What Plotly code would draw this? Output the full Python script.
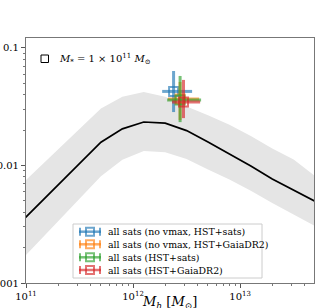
import plotly.graph_objects as go

# ---- data ----
mh_grid = [10**v for v in [10.9, 11.1, 11.3, 11.5, 11.7, 11.9, 12.1, 12.3, 12.5, 12.7, 12.9, 13.1, 13.3, 13.5, 13.7, 13.9]]
ratio_med = [10**v for v in [-2.529, -2.347, -2.165, -1.984, -1.802, -1.688, -1.630, -1.640, -1.703, -1.800, -1.900, -2.005, -2.115, -2.210, -2.300, -2.400]]
ratio_hi = [10**v for v in [-2.210, -2.036, -1.861, -1.687, -1.515, -1.416, -1.375, -1.415, -1.498, -1.572, -1.653, -1.750, -1.855, -1.950, -2.090, -2.200]]
ratio_lo = [10**v for v in [-2.858, -2.666, -2.474, -2.282, -2.092, -1.952, -1.876, -1.888, -1.944, -2.035, -2.120, -2.215, -2.320, -2.420, -2.515, -2.620]]

sat_names = ["all sats (no vmax, HST+sats)", "all sats (no vmax, HST+GaiaDR2)",
             "all sats (HST+sats)", "all sats (HST+GaiaDR2)"]
sat_colors = ["rgba(31,119,180,0.65)", "rgba(255,127,14,0.65)", "rgba(44,160,44,0.65)", "rgba(214,39,40,0.65)"]
sat_mh = [2.39e12, 2.75e12, 2.75e12, 2.96e12]
sat_mh_lo = [1.87e12, 2.12e12, 2.08e12, 2.31e12]
sat_mh_hi = [3.56e12, 4.14e12, 4.32e12, 4.23e12]
sat_ratio = [0.0427, 0.0368, 0.0361, 0.0347]
sat_ratio_lo = [0.0285, 0.0244, 0.0234, 0.0253]
sat_ratio_hi = [0.0637, 0.0514, 0.0578, 0.0535]

FONT = "DejaVu Serif"
W, H = 320, 308
ML, MR, MT, MB = 26, 6, 38, 25
PW, PH = W - ML - MR, H - MT - MB


def px(x):  # page pixel -> paper x
    return (x - ML) / PW


def py(y):  # page pixel -> paper y
    return (H - MB - y) / PH


fig = go.Figure()

# band
fig.add_trace(go.Scatter(x=mh_grid + mh_grid[::-1], y=ratio_hi + ratio_lo[::-1],
                         fill="toself", fillcolor="#e5e5e5", line=dict(width=0),
                         mode="lines", showlegend=False, hoverinfo="skip"))
# median line
fig.add_trace(go.Scatter(x=mh_grid, y=ratio_med, mode="lines",
                         line=dict(color="black", width=1.7), showlegend=False))

for i in range(4):
    fig.add_trace(go.Scatter(
        x=[sat_mh[i]], y=[sat_ratio[i]], mode="markers", name=sat_names[i], showlegend=False,
        marker=dict(symbol="square-open", size=9, color=sat_colors[i], line=dict(width=2)),
        error_x=dict(type="data", symmetric=False,
                     array=[sat_mh_hi[i] - sat_mh[i]], arrayminus=[sat_mh[i] - sat_mh_lo[i]],
                     color=sat_colors[i], thickness=3, width=0),
        error_y=dict(type="data", symmetric=False,
                     array=[sat_ratio_hi[i] - sat_ratio[i]], arrayminus=[sat_ratio[i] - sat_ratio_lo[i]],
                     color=sat_colors[i], thickness=3, width=0),
    ))

minor_x = [m * 10**e for e in (11, 12, 13) for m in range(2, 10)]
minor_y = [m * 10.0**e for e in (-3, -2, -1) for m in range(2, 10)]

fig.update_layout(
    width=W, height=H,
    margin=dict(l=ML, r=MR, t=MT, b=MB, autoexpand=False),
    paper_bgcolor="white", plot_bgcolor="white",
    font=dict(family=FONT, size=10, color="black"),
    showlegend=False,
)
fig.update_xaxes(type="log", range=[11, 13.69],
                 tickvals=[1e11, 1e12, 1e13], ticktext=["10<sup>11</sup>", "10<sup>12</sup>", "10<sup>13</sup>"],
                 ticks="outside", ticklen=4, tickcolor="#555", showgrid=False, zeroline=False,
                 showline=True, linecolor="#777", linewidth=1.2, mirror=True, automargin=False,
                 minor=dict(tickmode="array", tickvals=minor_x, ticks="outside", ticklen=2,
                            tickcolor="#777", showgrid=False))
fig.update_yaxes(type="log", range=[-3, -0.915],
                 tickvals=[0.001, 0.01, 0.1], ticktext=["0.001", "0.01", "0.1"],
                 ticks="outside", ticklen=4, tickcolor="#555", showgrid=False, zeroline=False,
                 showline=True, linecolor="#777", linewidth=1.2, mirror=True, automargin=False,
                 minor=dict(tickmode="array", tickvals=minor_y, ticks="outside", ticklen=2,
                            tickcolor="#777", showgrid=False))

# x-axis title (placed like the reference, partly below the frame edge)
fig.add_annotation(xref="paper", yref="paper", x=px(169), y=py(302), xanchor="center", yanchor="middle",
                   showarrow=False, font=dict(family=FONT, size=13),
                   text="<i>M<sub>h</sub></i> [<i>M</i><sub>⊙</sub>]")

# top-left label
fig.add_shape(type="rect", xref="paper", yref="paper", x0=px(41), x1=px(48.5), y0=py(62.5), y1=py(55),
              line=dict(color="black", width=1))
fig.add_annotation(xref="paper", yref="paper", x=px(57), y=py(58.5), xanchor="left", yanchor="middle",
                   showarrow=False, font=dict(family=FONT, size=10),
                   text="<i>M</i><sub>*</sub> = 1 × 10<sup>11</sup> <i>M</i><sub>⊙</sub>")

# manual legend (compact, matplotlib-like)
fig.add_shape(type="rect", xref="paper", yref="paper", x0=px(73), x1=px(262), y0=py(278), y1=py(224),
              line=dict(color="#cccccc", width=1), fillcolor="rgba(255,255,255,0.85)", layer="above")
row_y = [231.7, 244.3, 257.3, 270.0]
for i in range(4):
    yy = py(row_y[i])
    c = sat_colors[i]
    fig.add_shape(type="line", xref="paper", yref="paper", x0=px(79), x1=px(101), y0=yy, y1=yy,
                  line=dict(color=c, width=2.5), layer="above")
    for xe in (80, 100):
        fig.add_shape(type="line", xref="paper", yref="paper", x0=px(xe), x1=px(xe),
                      y0=py(row_y[i] + 4), y1=py(row_y[i] - 4), line=dict(color=c, width=2), layer="above")
    fig.add_shape(type="rect", xref="paper", yref="paper", x0=px(86), x1=px(94),
                  y0=py(row_y[i] + 4), y1=py(row_y[i] - 4), line=dict(color=c, width=2),
                  fillcolor="rgba(255,255,255,0)", layer="above")
    fig.add_annotation(xref="paper", yref="paper", x=px(106), y=yy, xanchor="left", yanchor="middle",
                       showarrow=False, font=dict(family=FONT, size=9.4), text=sat_names[i])

fig.write_html("out.html", config={"displayModeBar": False},
               post_script="document.body.style.margin='0';document.body.style.padding='0';")
